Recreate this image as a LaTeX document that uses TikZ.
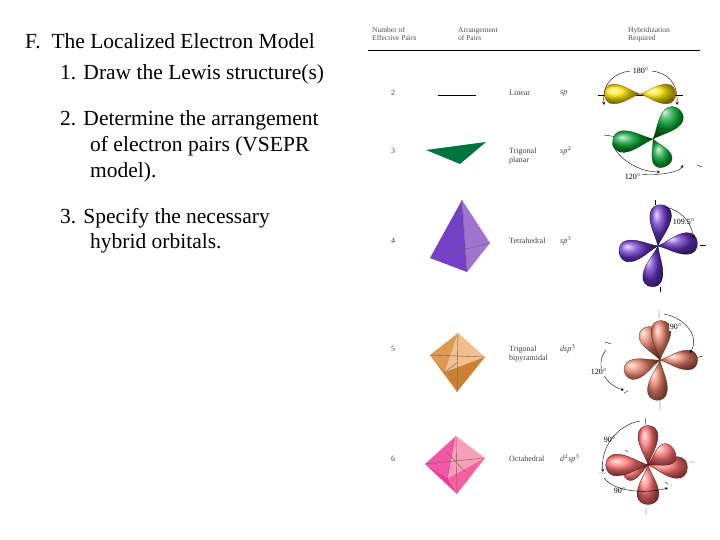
\documentclass[tikz,border=0pt]{standalone}
\usepackage{fontspec}
\setmainfont{Liberation Serif}
\begin{document}
\begin{tikzpicture}[x=1pt,y=-1pt,
  hdr/.style={font=\rmfamily\fontsize{7.5}{8.5}\selectfont,align=left,anchor=north west,inner sep=0,text=black!70},
  lbl/.style={font=\rmfamily\fontsize{8}{9}\selectfont,align=left,anchor=west,inner sep=0,text=black!75},
  main/.style={font=\rmfamily\fontsize{21.5}{24}\selectfont,anchor=base west,inner sep=0},
  ang/.style={font=\rmfamily\fontsize{8}{9}\selectfont,inner sep=1pt,fill=white},
  arc/.style={->,>=stealth,thin}]
\useasboundingbox (0,0) rectangle (720,540);
\newcommand\lobe[6]{% center, angle, length, width, fill, draw
  \begin{scope}[shift={#1},rotate=#2]
   \draw[#6,ball color=#5,line width=0.3pt] (0,0) .. controls (0.25*#3,0.3*#4) and (0.45*#3,0.9*#4) .. (0.7*#3,0.9*#4) .. controls (1.02*#3,0.9*#4) and (1.02*#3,-0.9*#4) .. (0.7*#3,-0.9*#4) .. controls (0.45*#3,-0.9*#4) and (0.25*#3,-0.3*#4) .. (0,0);
  \end{scope}}
% left text
\node[main] (t0) at (25,49) {F.\ \ The Localized Electron Model};
\node[main] (t1) at (60,80) {1. Draw the Lewis structure(s)};
\node[main] (t2) at (60,126) {2. Determine the arrangement};
\node[main] (t3) at (90,152) {of electron pairs (VSEPR};
\node[main] (t4) at (90,178) {model).};
\node[main] (t5) at (60,223) {3. Specify the necessary};
\node[main] (t6) at (90,248) {hybrid orbitals.};
% header
\node[hdr] (h1) at (372,27) {Number of\\Effective Pairs};
\node[hdr] (h2) at (458,27) {Arrangement\\of Pairs};
\node[hdr] (h3) at (628,27) {Hybridization\\Required};
\draw[line width=0.8pt] (368,50) -- (700,50);
% column texts
\foreach \n/\y in {2/93,3/151,4/241,5/349,6/459} \node[lbl] (n\n) at (391,\y) {\n};
\node[lbl] (a2) at (509,93) {Linear};
\node[lbl] (a3) at (509,156) {Trigonal\\planar};
\node[lbl] (a4) at (509,241) {Tetrahedral};
\node[lbl] (a5) at (509,354) {Trigonal\\bipyramidal};
\node[lbl] (a6) at (509,459) {Octahedral};
\node[lbl] (s2) at (560,93) {\itshape sp};
\node[lbl] (s3) at (560,151) {\itshape sp$^2$};
\node[lbl] (s4) at (560,241) {\itshape sp$^3$};
\node[lbl] (s5) at (560,349) {\itshape dsp$^3$};
\node[lbl] (s6) at (560,459) {\itshape d$^2$sp$^3$};
% shapes
\draw (438,95) -- (476,95);
\fill[teal!70!green!70!black] (426,150) -- (486,142) -- (460,164) -- cycle;
% tetrahedron
\fill[blue!45!violet!75!white] (462,200) -- (430,258) -- (467,272) -- cycle;
\fill[blue!35!violet!55!white] (462,200) -- (490,243) -- (467,272) -- cycle;
\draw[black!60,thin] (462,200) -- (467,272) (430,258) -- (490,243) (462,200)--(455,252);
% trigonal bipyramid
\fill[brown!60!orange!80] (458,333) -- (430,355) -- (445,372) -- cycle;
\fill[brown!40!orange!50] (458,333) -- (485,357) -- (445,372) -- cycle;
\fill[brown!70!orange] (430,355) -- (445,372) -- (457,392) -- cycle;
\fill[brown!80!orange] (445,372) -- (485,357) -- (457,392) -- cycle;
\draw[black!60,thin] (458,333) -- (457,392) (430,355) -- (485,357) (445,372)--(458,362);
% octahedron
\fill[magenta!55!pink] (456,436) -- (425,464) -- (448,478) -- cycle;
\fill[magenta!30!pink!80!white] (456,436) -- (485,458) -- (448,478) -- cycle;
\fill[magenta!70!pink] (425,464) -- (448,478) -- (457,494) -- cycle;
\fill[magenta!50!pink] (448,478) -- (485,458) -- (457,494) -- cycle;
\draw[black!60,thin] (456,436) -- (457,494) (425,464) -- (485,458) (447,452)--(465,472);
% sp
\draw[thin] (598,95) -- (683,95);
\lobe{(640,94)}{0}{38}{11}{yellow!80!orange}{orange!70!black}
\lobe{(640,94)}{180}{38}{11}{yellow!80!orange}{orange!70!black}
\draw[arc] (630,71) .. controls (615,73) and (602,82) .. (604,105);
\draw[arc] (652,71) .. controls (667,73) and (678,82) .. (677,105);
\node[ang] (g1) at (641,71) {180$^\circ$};
% sp2
\draw[thin] (604,135) -- (618,137) (665,110)--(669,111) (697,165)--(702,167);
\lobe{(653,139)}{185}{43}{12}{green!55!teal!80!black}{green!30!black}
\lobe{(653,139)}{-65}{32}{11}{green!55!teal!80!black}{green!30!black}
\lobe{(653,139)}{48}{42}{12}{green!55!teal!80!black}{green!30!black}
\draw[arc] (612,143) .. controls (618,160) and (640,172) .. (660,172);
\draw[arc] (640,174) .. controls (660,176) and (680,172) .. (683,165);
\node[ang] (g2) at (633,177) {120$^\circ$};
% sp3
\draw[thin] (655,200)--(655,205) (660,287)--(660,292) (700,245)--(706,245);
\lobe{(658,246)}{-100}{44}{11}{blue!45!violet!80!white}{blue!30!black}
\lobe{(658,246)}{190}{42}{12}{blue!45!violet!80!white}{blue!30!black}
\lobe{(658,246)}{5}{42}{12}{blue!45!violet!80!white}{blue!30!black}
\lobe{(658,246)}{85}{44}{12}{blue!45!violet!80!white}{blue!30!black}
\draw[arc] (665,207) .. controls (680,210) and (690,220) .. (694,238);
\node[ang,fill=none] (g3) at (684,222) {109.5$^\circ$};
% dsp3
\draw[thin] (659,310)--(659,318) (660,400)--(660,410) (695,358)--(703,356) (605,342)--(611,344) (624,393)--(628,391);
\lobe{(660,360)}{-95}{43}{11}{red!45!brown!70!white}{brown!40!black}
\lobe{(660,360)}{200}{40}{11}{red!45!brown!70!white}{brown!40!black}
\lobe{(660,360)}{0}{40}{11}{red!45!brown!70!white}{brown!40!black}
\lobe{(660,360)}{115}{38}{11}{red!45!brown!70!white}{brown!40!black}
\lobe{(660,360)}{88}{42}{11}{red!45!brown!70!white}{brown!40!black}
\draw[arc] (664,314) .. controls (685,318) and (700,336) .. (690,353);
\draw[arc] (606,350) .. controls (594,365) and (605,385) .. (624,390);
\node[ang] (g4) at (676,327) {90$^\circ$};
\node[ang] (g5) at (599,372) {120$^\circ$};
% d2sp3
\draw[thin] (645,418)--(646,425) (646,508)--(646,515) (690,462)--(695,462) (599,473)--(606,473) (625,450)--(628,452) (665,482)--(668,484);
\lobe{(648,465)}{200}{28}{10}{red!55!pink!85!white}{red!40!black}
\lobe{(648,465)}{-90}{42}{12}{red!55!pink!85!white}{red!40!black}
\lobe{(648,465)}{180}{45}{12}{red!55!pink!85!white}{red!40!black}
\lobe{(648,465)}{-5}{42}{12}{red!55!pink!85!white}{red!40!black}
\lobe{(648,465)}{90}{42}{11}{red!55!pink!85!white}{red!40!black}
\lobe{(648,465)}{30}{32}{12}{red!55!pink!85!white}{red!40!black}
\draw[arc] (640,421) .. controls (620,424) and (600,445) .. (603,472);
\draw[arc] (604,478) .. controls (615,492) and (645,494) .. (668,488);
\node[ang,fill=none] (g6) at (610,440) {90$^\circ$};
\node[ang,fill=none] (g7) at (620,491) {90$^\circ$};
\end{tikzpicture}
\end{document}
